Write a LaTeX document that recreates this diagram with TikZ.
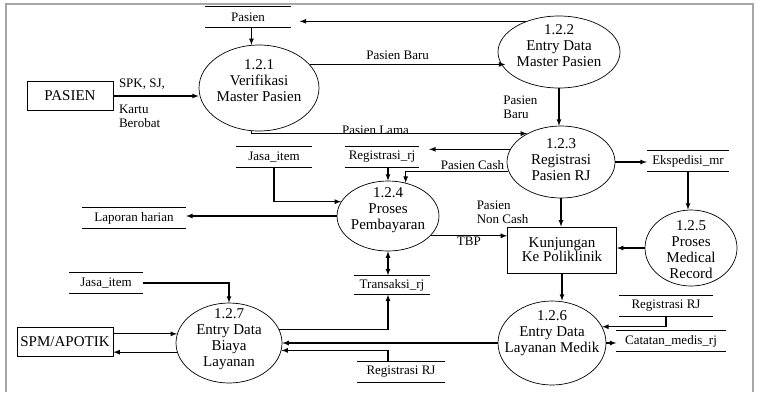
\documentclass[tikz,border=0pt]{standalone}
\usepackage{fontspec}
\setmainfont{Liberation Serif}
\usetikzlibrary{shapes.geometric}

\begin{document}
\begin{tikzpicture}[x=1pt,y=-1pt,>=latex,
  proc/.style={ellipse,draw,line width=0.7pt,inner sep=0pt},
  ptext/.style={align=center,inner sep=0pt,font=\fontsize{15}{16}\selectfont},
  ent/.style={rectangle,draw,line width=0.8pt,align=center,inner sep=0pt,font=\fontsize{15}{14}\selectfont},
  store/.style={inner sep=0pt,minimum height=20pt,font=\fontsize{13}{14}\selectfont},
  flow/.style={->,line width=1.2pt},
  lbl/.style={align=left,inner sep=1pt,font=\fontsize{13}{14}\selectfont}]
\useasboundingbox (0,0) rectangle (757,392);
\draw[gray!70,line width=1.5pt] (6,392) -- (6,4) -- (753,4) -- (753,392);
%
\node[proc,minimum width=120pt,minimum height=86pt,label={[ptext,yshift=7pt]center:1.2.1\\Verifikasi\\Master Pasien}] (p121) at (259,88) {};
\node[proc,minimum width=122pt,minimum height=72pt,label={[ptext,yshift=6pt]center:1.2.2\\Entry Data\\Master Pasien}] (p122) at (559,52) {};
\node[proc,minimum width=108pt,minimum height=72pt,label={[ptext,yshift=2pt]center:1.2.3\\Registrasi\\Pasien RJ}] (p123) at (561,162) {};
\node[proc,minimum width=102pt,minimum height=70pt,label={[ptext,yshift=6pt]center:1.2.4\\Proses\\Pembayaran}] (p124) at (388,216) {};
\node[proc,minimum width=92pt,minimum height=76pt,label={[ptext,yshift=-2pt]center:1.2.5\\Proses\\Medical\\Record}] (p125) at (691,248) {};
\node[proc,minimum width=108pt,minimum height=84pt,label={[ptext,yshift=10pt]center:1.2.6\\Entry Data\\Layanan Medik}] (p126) at (552,343) {};
\node[proc,minimum width=106pt,minimum height=80pt,label={[ptext,yshift=4pt]center:1.2.7\\Entry Data\\Biaya\\Layanan}] (p127) at (229,343) {};
%
\node[ent,minimum width=86pt,minimum height=29pt] (ePasien) at (70,96) {PASIEN};
\node[ent,minimum width=96pt,minimum height=29pt] (eSPM) at (65,342) {SPM/APOTIK};
\node[ent,minimum width=109pt,minimum height=46pt] (kunj) at (562,250) {Kunjungan\\Ke Poliklinik};
%
\node[store,minimum width=85pt] (sPasien) at (248,17) {Pasien};
\node[store,minimum width=76pt,minimum height=21pt] (sJasa1) at (274,157) {Jasa\_item};
\node[store,minimum width=74pt,minimum height=21pt] (sReg1) at (382,157) {Registrasi\_rj};
\node[store,minimum width=104pt] (sLap) at (134,218) {Laporan harian};
\node[store,minimum width=75pt,minimum height=19pt] (sTrans) at (392,285) {Transaksi\_rj};
\node[store,minimum width=82pt] (sEksp) at (688,161) {Ekspedisi\_mr};
\node[store,minimum width=93pt,minimum height=21pt] (sRegRJ1) at (666,306) {Registrasi RJ};
\node[store,minimum width=109pt] (sCatat) at (671,341) {Catatan\_medis\_rj};
\node[store,minimum width=73pt,minimum height=21pt] (sJasa2) at (106,283) {Jasa\_item};
\node[store,minimum width=87pt] (sRegRJ2) at (401,372) {Registrasi RJ};
\foreach \s in {sPasien,sJasa1,sReg1,sLap,sTrans,sEksp,sRegRJ1,sCatat,sJasa2,sRegRJ2}
  \draw[line width=1.3pt] (\s.north west) -- (\s.north east) (\s.south west) -- (\s.south east);
%
\draw[flow] (p121.100 |- sPasien.south) -- (p121.100);
\draw[flow,shorten >=9pt] (p122.137) -- (p122.137 -| sPasien.east);
\draw[flow] (ePasien.east) -- (ePasien.east -| p121.west)
  node[lbl,pos=0,anchor=south west,xshift=4pt,yshift=5pt] {SPK, SJ,}
  node[lbl,pos=0,anchor=north west,xshift=4pt,yshift=-7pt] {Kartu\\Berobat};
\draw[flow] (p121.25) -- node[lbl,pos=0.45,above=3pt] {Pasien Baru} (p121.25 -| p122.198);
\draw[flow] (p122.south) -- node[lbl,left=20pt] {Pasien\\Baru} (p122.south |- p123.north);
\draw[flow] (p121.260) -- (p121.260 |- p123.140) -- node[lbl,pos=0.45,above=-3pt] {Pasien Lama} (p123.140);
%
\draw[flow,shorten >=10pt] (p123.166) -- (p123.166 -| sReg1.east);
\draw[flow] (p123.190) -- node[lbl,pos=0.35,above=0pt] {Pasien Cash} (p123.190 -| p124.62) -- (p124.62);
\draw[flow] (p124.north |- sReg1.south) -- (p124.north);
\draw[flow] (sJasa1.south) |- (p124.163);
\draw[flow] (p124.west) -- (p124.west -| sLap.east);
\draw[flow] (p124.-25) -- node[lbl,below] {TBP} (p124.-25 -| kunj.west);
\draw[flow,<->] (p124.south) -- (p124.south |- sTrans.north);
%
\draw[flow] (p123.east) -- (p123.east -| sEksp.west);
\draw[flow] (sEksp.south) -- (sEksp.south |- p125.north);
\draw[flow] (p125.west) -- (p125.west -| kunj.east);
\draw[flow] (p123.south) -- node[lbl,left=31pt] {Pasien\\Non Cash} (p123.south |- kunj.north);
\draw[flow] (kunj.south) -- (kunj.south |- p126.north);
%
\draw[flow] (sRegRJ1.south) |- (p126.18);
\draw[flow] (p126.east) -- (p126.east -| sCatat.west);
\draw[flow] (p126.west) -- (p126.west -| p127.east);
\draw[flow] (p127.15) -| (p124.south |- sTrans.south);
\draw[flow] (p124.south |- sRegRJ2.north) |- (p127.-8);
\draw[flow] (sJasa2.east) -| (p127.north);
\draw[flow] (eSPM.east |- p127.170) -- (p127.170);
\draw[flow] (p127.190) -- (p127.190 -| eSPM.east);
%
\end{tikzpicture}
\end{document}
